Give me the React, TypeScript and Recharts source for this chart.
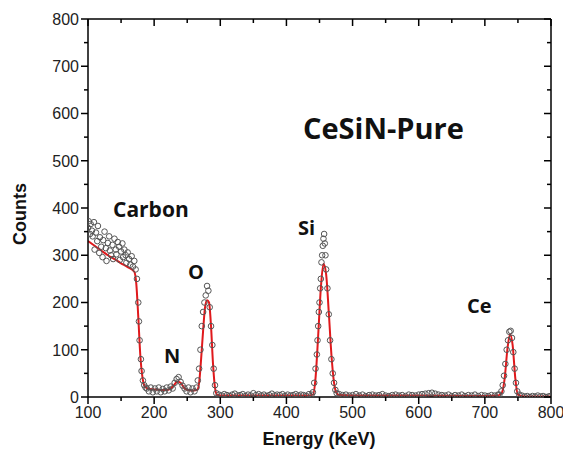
import React from 'react';
import { ComposedChart, Line, Scatter, XAxis, YAxis } from 'recharts';

// Fitted curve (red)
const fitEnergy = [100,110,120,130,140,150,160,170,173,176,179,182,185,190,200,210,220,225,230,235,240,245,250,255,260,265,268,271,274,277,280,283,286,289,292,295,300,350,400,430,440,444,448,452,456,460,464,468,472,476,480,500,600,700,720,726,730,734,738,742,746,750,760,800];
const fitCounts = [330,320,310,300,292,283,275,265,240,170,90,45,25,18,16,15,15,18,25,33,30,20,15,14,14,15,30,80,140,190,205,200,150,70,20,5,3,3,3,3,5,40,130,230,282,260,180,90,30,8,4,3,3,2,3,10,40,100,133,110,40,5,1,1];

// Measured points (open circles)
const carbonEnergy = [100,101,103,104,106,107,109,110,112,114,115,117,118,120,122,123,125,127,128,130,132,133,135,137,138,140,142,143,145,147,148,150,152,153,155,157,158,160,162,164,166,168,170,172];
const carbonCounts = [358,372,345,366,352,340,370,312,348,330,362,305,338,318,296,332,350,315,288,326,340,310,300,322,292,335,312,302,328,318,290,308,325,296,312,300,284,306,292,280,298,276,288,270];

const lowEnergy = [174,176,177,178,180,181,183,185,187,189,192,195,198,201,204,207,210,213,216,219,222,225,228,231,234,237,240,243,246,249,252,255,258,261,264,266,268,270,272,274,276,278,280,282,284,286,288,290,292,294];
const lowCounts = [250,200,160,120,80,55,35,25,20,18,12,20,10,18,12,20,10,17,12,20,14,22,18,30,38,42,32,24,18,12,20,10,18,12,20,35,60,100,150,180,200,215,235,225,190,150,110,60,25,8];

const base1Energy = [298,302,306,310,314,318,322,326,330,334,338,342,346,350,354,358,362,366,370,374,378,382,386,390,394,398,402,406,410,414,418,422,426,430,434,438];
const base1Counts = [5,3,6,4,2,5,7,3,4,6,2,5,3,8,4,6,3,5,2,4,7,3,5,4,6,2,5,3,4,6,3,5,4,2,6,5];

const siEnergy = [440,442,444,446,447,448,449,450,451,452,453,454,455,456,457,458,459,460,462,464,466,468,470,472,474,476];
const siCounts = [10,30,60,90,120,150,180,200,230,250,285,300,320,335,345,325,300,270,230,175,120,80,50,30,15,8];

const base2Energy = [480,485,490,495,500,505,510,515,520,525,530,535,540,545,550,555,560,565,570,575,580,585,590,595,600,605,610,615,620,625,630,635,640,645,650,655,660,665,670,675,680,685,690,695,700,705,710,715,720];
const base2Counts = [6,4,5,3,4,6,3,5,2,4,5,3,4,6,3,2,4,5,3,4,2,5,4,3,5,6,7,8,9,7,5,4,3,5,2,4,3,5,2,4,3,5,2,4,3,2,4,3,5];

const ceEnergy = [722,725,727,729,731,733,735,737,739,741,743,745,747,749,752];
const ceCounts = [5,12,25,45,70,100,120,138,140,125,95,60,30,12,5];

const tailEnergy = [756,760,764,768,772,776,780,784,788,792,796,799];
const tailCounts = [3,1,2,0,2,1,3,1,2,0,1,2];

const xTicks = [100,150,200,250,300,350,400,450,500,550,600,650,700,750,800];
const yTicks = [0,50,100,150,200,250,300,350,400,450,500,550,600,650,700,750,800];

const zip = (xs: number[], ys: number[]) => xs.map((x, i) => ({ x, y: ys[i] }));
const fitData = zip(fitEnergy, fitCounts);
const pointData = [
  ...zip(carbonEnergy, carbonCounts),
  ...zip(lowEnergy, lowCounts),
  ...zip(base1Energy, base1Counts),
  ...zip(siEnergy, siCounts),
  ...zip(base2Energy, base2Counts),
  ...zip(ceEnergy, ceCounts),
  ...zip(tailEnergy, tailCounts),
];

const TICK_FONT = 'Arial, "Liberation Sans", sans-serif';
const LABEL_FONT = '"Open Sans", sans-serif';

const BottomTick = (props: any) => {
  const { x, y, payload } = props;
  const major = payload.value % 100 === 0;
  return (
    <g>
      <line x1={x} x2={x} y1={y} y2={y + (major ? 7 : 4)} stroke="#000" strokeWidth={1.5} />
      {major && (
        <text x={x} y={y + 21} textAnchor="middle" fontSize={16} fontFamily={TICK_FONT} fill="#222">
          {payload.value}
        </text>
      )}
    </g>
  );
};
const LeftTick = (props: any) => {
  const { x, y, payload } = props;
  const major = payload.value % 100 === 0;
  return (
    <g>
      <line x1={x} x2={x - (major ? 7 : 4)} y1={y} y2={y} stroke="#000" strokeWidth={1.5} />
      {major && (
        <text x={x - 9} y={y} dy="0.36em" textAnchor="end" fontSize={16} fontFamily={TICK_FONT} fill="#222">
          {payload.value}
        </text>
      )}
    </g>
  );
};
const TopTick = (props: any) => {
  const { x, y, payload } = props;
  const major = payload.value % 100 === 0;
  return <line x1={x} x2={x} y1={y} y2={y + (major ? 7 : 4)} stroke="#000" strokeWidth={1.5} />;
};
const RightTick = (props: any) => {
  const { x, y, payload } = props;
  const major = payload.value % 100 === 0;
  return <line x1={x} x2={x - (major ? 7 : 4)} y1={y} y2={y} stroke="#000" strokeWidth={1.5} />;
};

const Circle = (props: any) => {
  const { cx, cy } = props;
  if (cx == null || cy == null) return null;
  return <circle cx={cx} cy={cy} r={2.8} fill="none" stroke="#555" strokeWidth={1} />;
};

const annotations = [
  { text: 'CeSiN-Pure', left: 303, top: 113, size: 29 },
  { text: 'Carbon', left: 113, top: 199, size: 21 },
  { text: 'N', left: 164, top: 346, size: 20 },
  { text: 'O', left: 188, top: 262, size: 20 },
  { text: 'Si', left: 298, top: 218, size: 20 },
  { text: 'Ce', left: 467, top: 296, size: 20 },
];

export default function App() {
  return (
    <div style={{ position: 'absolute', left: 0, top: 0, width: 563, height: 459, background: '#fff' }}>
      <ComposedChart width={563} height={459} data={fitData} margin={{ top: 18, right: 11, bottom: 32, left: 30 }}>
        <XAxis
          xAxisId="b"
          dataKey="x"
          type="number"
          domain={[100, 800]}
          ticks={xTicks}
          interval={0}
          height={30}
          tickSize={0}
          tickMargin={0}
          tickLine={false}
          axisLine={{ stroke: '#000', strokeWidth: 1.5 }}
          tick={<BottomTick />}
          allowDataOverflow
        />
        <XAxis
          xAxisId="t"
          orientation="top"
          dataKey="x"
          type="number"
          domain={[100, 800]}
          ticks={xTicks}
          interval={0}
          height={1}
          tickSize={0}
          tickMargin={0}
          tickLine={false}
          axisLine={{ stroke: '#000', strokeWidth: 1.5 }}
          tick={<TopTick />}
          allowDataOverflow
        />
        <YAxis
          yAxisId="l"
          type="number"
          domain={[0, 800]}
          ticks={yTicks}
          interval={0}
          width={58}
          tickSize={0}
          tickMargin={0}
          tickLine={false}
          axisLine={{ stroke: '#000', strokeWidth: 1.5 }}
          tick={<LeftTick />}
          allowDataOverflow
        />
        <YAxis
          yAxisId="r"
          orientation="right"
          type="number"
          domain={[0, 800]}
          ticks={yTicks}
          interval={0}
          width={1}
          tickSize={0}
          tickMargin={0}
          tickLine={false}
          axisLine={{ stroke: '#000', strokeWidth: 1.5 }}
          tick={<RightTick />}
          allowDataOverflow
        />
        <Line
          xAxisId="t"
          yAxisId="r"
          data={fitData}
          dataKey="y"
          stroke="none"
          dot={false}
          activeDot={false}
          legendType="none"
          isAnimationActive={false}
        />
        <Scatter
          xAxisId="b"
          yAxisId="l"
          data={pointData}
          dataKey="y"
          shape={<Circle />}
          isAnimationActive={false}
        />
        <Line
          xAxisId="b"
          yAxisId="l"
          data={fitData}
          dataKey="y"
          type="monotone"
          stroke="#e0191c"
          strokeWidth={2}
          dot={false}
          isAnimationActive={false}
        />
      </ComposedChart>
      {annotations.map((a) => (
        <div
          key={a.text}
          style={{
            position: 'absolute',
            left: a.left,
            top: a.top,
            fontFamily: LABEL_FONT,
            fontWeight: 700,
            fontSize: a.size,
            lineHeight: 1,
            color: '#111',
            whiteSpace: 'nowrap',
          }}
        >
          {a.text}
        </div>
      ))}
      <div
        style={{
          position: 'absolute',
          left: 319,
          top: 430,
          transform: 'translateX(-50%)',
          fontFamily: TICK_FONT,
          fontWeight: 700,
          fontSize: 18,
          lineHeight: 1,
          color: '#111',
          whiteSpace: 'nowrap',
        }}
      >
        Energy (KeV)
      </div>
      <div
        style={{
          position: 'absolute',
          left: 20,
          top: 214,
          transform: 'translate(-50%, -50%) rotate(-90deg)',
          fontFamily: TICK_FONT,
          fontWeight: 700,
          fontSize: 18,
          lineHeight: 1,
          color: '#111',
          whiteSpace: 'nowrap',
        }}
      >
        Counts
      </div>
    </div>
  );
}
